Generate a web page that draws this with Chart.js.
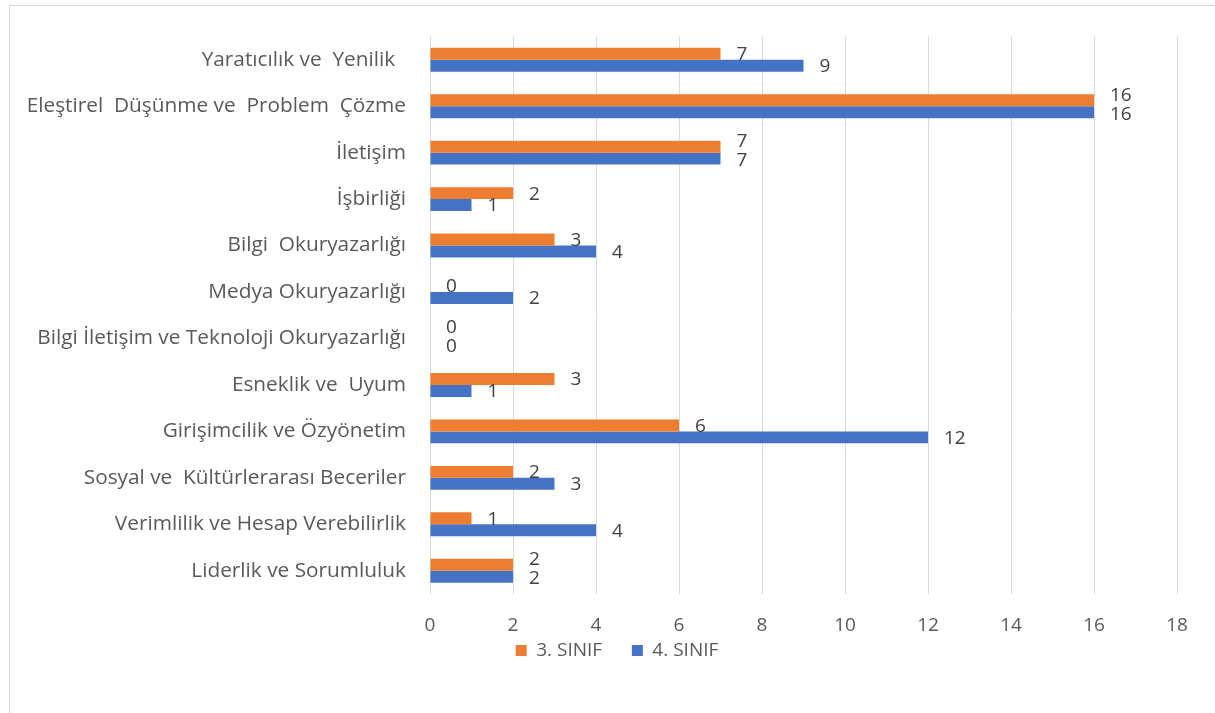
<!DOCTYPE html>
<html>
<head>
<meta charset="utf-8">
<script src="https://cdn.jsdelivr.net/npm/chart.js@4"></script>
<style>
  html, body { margin: 0; padding: 0; background: #fff; }
  #wrap { position: relative; width: 1215px; height: 713px; }
  #frame { position: absolute; left: 9px; top: 5px; width: 1210px; height: 712px; border: 1px solid #d9d9d9; box-sizing: border-box; }
</style>
</head>
<body>
<div id="wrap">
  <div id="frame"></div>
  <canvas id="chart" width="1215" height="713"></canvas>
</div>
<script>
// categories, top to bottom
const categories = [
    "Yaratıcılık ve  Yenilik  ",
    "Eleştirel  Düşünme ve  Problem  Çözme",
    "İletişim",
    "İşbirliği",
    "Bilgi  Okuryazarlığı",
    "Medya Okuryazarlığı",
    "Bilgi İletişim ve Teknoloji Okuryazarlığı",
    "Esneklik ve  Uyum",
    "Girişimcilik ve Özyönetim",
    "Sosyal ve  Kültürlerarası Beceriler",
    "Verimlilik ve Hesap Verebilirlik",
    "Liderlik ve Sorumluluk"
];
const sinif3 = [7, 16, 7, 2, 3, 0, 0, 3, 6, 2, 1, 2];
const sinif4 = [9, 16, 7, 1, 4, 2, 0, 1, 12, 3, 4, 2];
const seriesNames = ["3. SINIF", "4. SINIF"];
const xTicks = [0, 2, 4, 6, 8, 10, 12, 14, 16, 18];

const FONT = "'Open Sans', sans-serif";

// value labels at the end of each bar; when the pair would collide the
// upper label is nudged up a little (as the original does)
const valueLabels = {
    id: "valueLabels",
    afterDatasetsDraw(chart) {
        const ctx = chart.ctx;
        ctx.save();
        ctx.font = "19px " + FONT;
        ctx.fillStyle = "#404040";
        ctx.textAlign = "left";
        ctx.textBaseline = "middle";
        const top = chart.getDatasetMeta(0).data;
        const bottom = chart.getDatasetMeta(1).data;
        top.forEach((barA, j) => {
            const barB = bottom[j];
            const tA = String(sinif3[j]), tB = String(sinif4[j]);
            const xA = barA.x + 16, xB = barB.x + 16;
            const wA = ctx.measureText(tA).width, wB = ctx.measureText(tB).width;
            const clash = xA < xB + wB && xB < xA + wA;
            ctx.fillText(tA, xA, barA.y + (clash ? -5 : 1));
            ctx.fillText(tB, xB, barB.y + (clash ? 2 : 1));
        });
        ctx.restore();
    }
};

// legend sits a bit right of the canvas centre in the original
const legendShift = {
    id: "legendShift",
    afterLayout(chart) {
        chart.legend.left += 24;
        chart.legend.right += 24;
    }
};

new Chart(document.getElementById("chart"), {
    type: "bar",
    data: {
        labels: categories,
        datasets: [
            { label: seriesNames[0], data: sinif3, backgroundColor: "#ED7D31" },
            { label: seriesNames[1], data: sinif4, backgroundColor: "#4472C4" }
        ]
    },
    options: {
        indexAxis: "y",
        responsive: false,
        animation: false,
        categoryPercentage: 0.515,
        barPercentage: 1,
        layout: { padding: { left: 9, right: 38, top: 32, bottom: 43 } },
        scales: {
            x: {
                min: 0,
                max: 18,
                afterBuildTicks(scale) {
                    scale.ticks = xTicks.map(v => ({ value: v }));
                },
                afterFit(scale) { scale.height = 37; },
                grid: { color: "#d9d9d9", drawTicks: false },
                border: { display: false },
                ticks: { color: "#595959", font: { family: FONT, size: 19 }, padding: 20 }
            },
            y: {
                grid: { display: false, drawTicks: false },
                border: { display: false },
                afterFit(scale) { scale.width = 421; },
                ticks: { color: "#595959", font: { family: FONT, size: 20.8 }, padding: 24 }
            }
        },
        plugins: {
            legend: {
                position: "bottom",
                labels: {
                    boxWidth: 11,
                    boxHeight: 11,
                    color: "#595959",
                    font: { family: FONT, size: 19 },
                    padding: 10,
                    generateLabels(chart) {
                        const items = Chart.defaults.plugins.legend.labels.generateLabels(chart);
                        items[0].text = items[0].text + "    ";
                        return items;
                    }
                }
            },
            tooltip: { enabled: false }
        }
    },
    plugins: [valueLabels, legendShift]
});
</script>
</body>
</html>
